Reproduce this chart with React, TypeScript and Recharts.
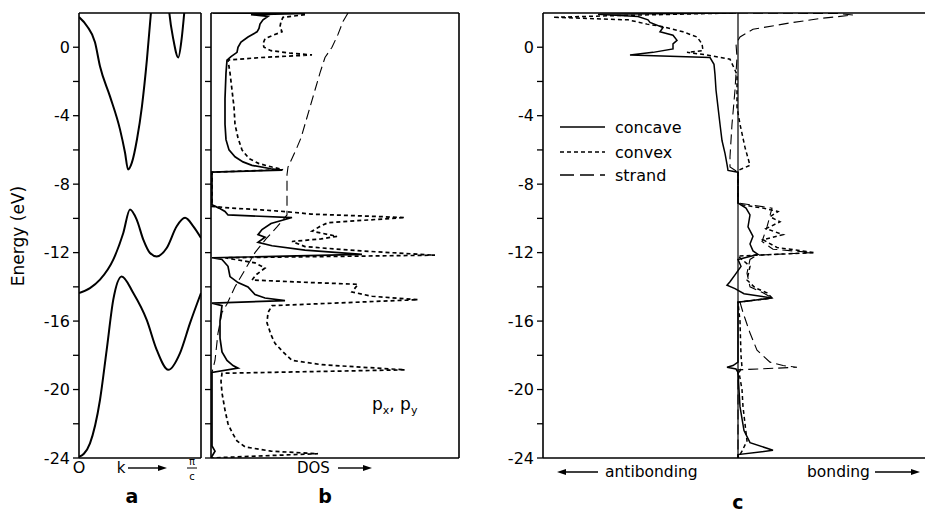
import React from "react";
import { ScatterChart, Scatter, XAxis, YAxis, ReferenceLine } from "recharts";

const FONT = "'DejaVu Sans', 'Liberation Sans', sans-serif";
const W = 925;
const H = 512;
const PLOT_TOP = 13;
const PLOT_BOTTOM = 458;

const energyDomain = [-24, 2];
const energyTicks = [-24, -22, -20, -18, -16, -14, -12, -10, -8, -6, -4, -2, 0];
const kDomain = [0, 1];
const dosDomain = [0, 248];
const coopDomain = [-195, 187];

// panel a: bands, k in units of pi/c
const band1 = [
  { k: 0, e: 1.76 }, { k: 0.066, e: 1.23 }, { k: 0.131, e: 0.29 }, { k: 0.172, e: -1.11 },
  { k: 0.254, e: -2.87 }, { k: 0.336, e: -4.8 }, { k: 0.377, e: -6.15 }, { k: 0.402, e: -7.14 },
  { k: 0.434, e: -6.73 }, { k: 0.475, e: -5.39 }, { k: 0.516, e: -3.45 }, { k: 0.557, e: -0.7 },
  { k: 0.59, e: 2.05 }, { k: 0.6, e: 2.8 },
];
const band2 = [
  { k: 0.73, e: 2.8 }, { k: 0.74, e: 2.03 }, { k: 0.773, e: 0.47 }, { k: 0.814, e: -0.6 },
  { k: 0.841, e: 0.47 }, { k: 0.863, e: 2.03 }, { k: 0.873, e: 2.8 },
];
const band3 = [
  { k: 0, e: -14.36 }, { k: 0.09, e: -14.07 }, { k: 0.172, e: -13.58 }, { k: 0.281, e: -12.41 },
  { k: 0.363, e: -10.85 }, { k: 0.418, e: -9.48 }, { k: 0.473, e: -10.07 }, { k: 0.527, e: -11.24 },
  { k: 0.582, e: -12.02 }, { k: 0.637, e: -12.22 }, { k: 0.719, e: -11.73 }, { k: 0.801, e: -10.46 },
  { k: 0.869, e: -9.97 }, { k: 0.937, e: -10.46 }, { k: 1, e: -11.14 },
];
const band4 = [
  { k: 0, e: -23.93 }, { k: 0.04, e: -23.75 }, { k: 0.09, e: -23.14 }, { k: 0.172, e: -20.61 },
  { k: 0.227, e: -17.68 }, { k: 0.281, e: -14.75 }, { k: 0.35, e: -13.39 }, { k: 0.445, e: -14.36 },
  { k: 0.555, e: -15.93 }, { k: 0.637, e: -17.68 }, { k: 0.732, e: -18.85 }, { k: 0.828, e: -17.87 },
  { k: 0.91, e: -16.12 }, { k: 1, e: -14.36 },
];

// panel b: px, py DOS projections
const dosConcave = [
  { e: 2.0, v: 2 }, { e: 1.97, v: 94 }, { e: 1.9, v: 40 }, { e: 1.8, v: 57 }, { e: 1.6, v: 52 },
  { e: 1.35, v: 49 }, { e: 1.1, v: 48 }, { e: 0.9, v: 46 }, { e: 0.6, v: 37 }, { e: 0.3, v: 30 },
  { e: 0, v: 27 }, { e: -0.3, v: 26 }, { e: -0.55, v: 20 }, { e: -0.75, v: 16 }, { e: -1.5, v: 15 },
  { e: -3, v: 14 }, { e: -4.5, v: 14 }, { e: -5.4, v: 15 }, { e: -6.0, v: 18 }, { e: -6.4, v: 24 },
  { e: -6.7, v: 32 }, { e: -6.9, v: 41 }, { e: -7.1, v: 60 }, { e: -7.18, v: 71 }, { e: -7.3, v: 1 },
  { e: -9.2, v: 1 }, { e: -9.4, v: 8 }, { e: -9.6, v: 14 }, { e: -9.8, v: 17 }, { e: -9.95, v: 81 },
  { e: -10.3, v: 60 }, { e: -10.65, v: 51 }, { e: -10.95, v: 47 }, { e: -11.1, v: 54 }, { e: -11.4, v: 47 },
  { e: -11.6, v: 61 }, { e: -11.85, v: 94 }, { e: -12.1, v: 151 }, { e: -12.3, v: 1 }, { e: -12.4, v: 11 },
  { e: -12.8, v: 17 }, { e: -13.4, v: 19 }, { e: -13.75, v: 27 }, { e: -14.0, v: 37 }, { e: -14.45, v: 44 },
  { e: -14.65, v: 54 }, { e: -14.8, v: 74 }, { e: -14.95, v: 1 }, { e: -15.1, v: 11 }, { e: -16, v: 9 },
  { e: -17, v: 9 }, { e: -17.8, v: 11 }, { e: -18.3, v: 16 }, { e: -18.6, v: 22 }, { e: -18.75, v: 27 },
  { e: -19.0, v: 1 }, { e: -23.3, v: 1 }, { e: -23.6, v: 4 }, { e: -23.9, v: 1 }, { e: -24, v: 0 },
];
const dosConvex = [
  { e: 1.9, v: 94 }, { e: 1.75, v: 72 }, { e: 1.5, v: 70 }, { e: 1.2, v: 69 }, { e: 0.9, v: 71 },
  { e: 0.7, v: 62 }, { e: 0.5, v: 54 }, { e: 0.2, v: 52 }, { e: 0, v: 53 }, { e: -0.2, v: 60 },
  { e: -0.35, v: 80 }, { e: -0.45, v: 101 }, { e: -0.6, v: 50 }, { e: -0.75, v: 17 }, { e: -1.5, v: 19 },
  { e: -2.5, v: 21 }, { e: -3.5, v: 23 }, { e: -4.5, v: 24 }, { e: -5.3, v: 27 }, { e: -6.0, v: 31 },
  { e: -6.5, v: 38 }, { e: -6.8, v: 48 }, { e: -7.0, v: 61 }, { e: -7.15, v: 72 }, { e: -7.3, v: 1 },
  { e: -9.3, v: 1 }, { e: -9.4, v: 21 }, { e: -9.5, v: 50 }, { e: -9.6, v: 74 }, { e: -9.75, v: 100 },
  { e: -9.95, v: 194 }, { e: -10.25, v: 117 }, { e: -10.5, v: 108 }, { e: -10.75, v: 101 }, { e: -11.05, v: 126 },
  { e: -11.2, v: 110 }, { e: -11.35, v: 81 }, { e: -11.65, v: 94 }, { e: -11.9, v: 150 }, { e: -12.15, v: 224 },
  { e: -12.3, v: 14 }, { e: -12.6, v: 44 }, { e: -12.9, v: 54 }, { e: -13.3, v: 45 }, { e: -13.6, v: 41 },
  { e: -13.75, v: 100 }, { e: -13.85, v: 147 }, { e: -14.3, v: 141 }, { e: -14.55, v: 161 }, { e: -14.75, v: 207 },
  { e: -15.1, v: 61 }, { e: -15.5, v: 57 }, { e: -16.1, v: 56 }, { e: -16.8, v: 60 }, { e: -17.3, v: 64 },
  { e: -17.8, v: 72 }, { e: -18.3, v: 81 }, { e: -18.55, v: 111 }, { e: -18.85, v: 194 }, { e: -19.05, v: 11 },
  { e: -19.5, v: 10 }, { e: -20.2, v: 11 }, { e: -21.2, v: 14 }, { e: -22.0, v: 17 }, { e: -22.5, v: 21 },
  { e: -23.0, v: 26 }, { e: -23.35, v: 34 }, { e: -23.6, v: 60 }, { e: -23.75, v: 107 }, { e: -23.9, v: 40 },
  { e: -24, v: 0 },
];
const dosStrand = [
  { e: 2.0, v: 137 }, { e: 1.5, v: 132 }, { e: 0.75, v: 127 }, { e: 0, v: 121 }, { e: -0.6, v: 114 },
  { e: -1.5, v: 109 }, { e: -2.5, v: 104 }, { e: -3.5, v: 99 }, { e: -4.5, v: 94 }, { e: -5.3, v: 90 },
  { e: -5.85, v: 86 }, { e: -6.5, v: 81 }, { e: -7.0, v: 77 }, { e: -7.45, v: 76 }, { e: -8.5, v: 76 },
  { e: -9.8, v: 76 }, { e: -10.5, v: 66 }, { e: -11.2, v: 55 }, { e: -12.0, v: 44 }, { e: -13.0, v: 34 },
  { e: -14.0, v: 24 }, { e: -15.0, v: 16 }, { e: -15.5, v: 11 }, { e: -16.7, v: 7 }, { e: -18.3, v: 4 },
  { e: -19.0, v: 1 }, { e: -19.1, v: 0 },
];

// panel c: COOP, negative = antibonding, positive = bonding
const coopConcave = [
  { e: 2.0, v: -2 }, { e: 1.92, v: -140 }, { e: 1.8, v: -100 }, { e: 1.6, v: -90 }, { e: 1.45, v: -88 },
  { e: 1.15, v: -75 }, { e: 0.9, v: -78 }, { e: 0.7, v: -65 }, { e: 0.4, v: -61 }, { e: 0.2, v: -65 },
  { e: -0.1, v: -65 }, { e: -0.3, v: -85 }, { e: -0.45, v: -108 }, { e: -0.6, v: -28 }, { e: -1.0, v: -24 },
  { e: -1.6, v: -23 }, { e: -2.5, v: -22 }, { e: -3.5, v: -20 }, { e: -4.5, v: -18 }, { e: -5.45, v: -16 },
  { e: -6.2, v: -13 }, { e: -6.85, v: -11 }, { e: -7.2, v: -10 }, { e: -7.3, v: 0 }, { e: -9.1, v: 0 },
  { e: -9.4, v: 8 }, { e: -9.8, v: 12 }, { e: -10.5, v: 10 }, { e: -11.05, v: 15 }, { e: -11.5, v: 12 },
  { e: -11.9, v: 15 }, { e: -12.1, v: 20 }, { e: -12.4, v: 0 }, { e: -12.8, v: 3 }, { e: -13.3, v: -3 },
  { e: -13.7, v: -8 }, { e: -13.9, v: -11 }, { e: -14.1, v: -3 }, { e: -14.4, v: 6 }, { e: -14.65, v: 34 },
  { e: -14.9, v: 0 }, { e: -18.4, v: 0 }, { e: -18.6, v: -5 }, { e: -18.7, v: -11 }, { e: -18.8, v: -2 },
  { e: -19, v: 0 }, { e: -21, v: 2 }, { e: -22.4, v: 6 }, { e: -23.1, v: 12 }, { e: -23.55, v: 35 },
  { e: -23.8, v: 0 }, { e: -24, v: 0 },
];
const coopConvex = [
  { e: 2.0, v: -5 }, { e: 1.85, v: -120 }, { e: 1.75, v: -185 }, { e: 1.6, v: -110 }, { e: 1.35, v: -91 },
  { e: 1.2, v: -75 }, { e: 0.9, v: -55 }, { e: 0.6, v: -41 }, { e: 0.2, v: -36 }, { e: -0.2, v: -35 },
  { e: -0.3, v: -51 }, { e: -0.45, v: -31 }, { e: -0.7, v: -8 }, { e: -1.6, v: -1 }, { e: -3.5, v: -1 },
  { e: -4.5, v: 2 }, { e: -5.85, v: 7 }, { e: -6.9, v: 12 }, { e: -7.2, v: 0 }, { e: -9.1, v: 0 },
  { e: -9.2, v: 3 }, { e: -9.4, v: 25 }, { e: -9.6, v: 40 }, { e: -9.9, v: 32 }, { e: -10.2, v: 42 },
  { e: -10.6, v: 28 }, { e: -10.95, v: 45 }, { e: -11.25, v: 25 }, { e: -11.7, v: 39 }, { e: -12.0, v: 77 },
  { e: -12.2, v: 0 }, { e: -12.8, v: 12 }, { e: -13.6, v: 9 }, { e: -14.05, v: 17 }, { e: -14.35, v: 29 },
  { e: -14.65, v: 34 }, { e: -14.9, v: 0 }, { e: -16, v: 2 }, { e: -18, v: 3 }, { e: -18.7, v: 4 },
  { e: -19, v: 1 }, { e: -20, v: 4 }, { e: -21, v: 5 }, { e: -22, v: 7 }, { e: -23, v: 9 },
  { e: -23.6, v: 4 }, { e: -24, v: 0 },
];
const coopStrand = [
  { e: 2.0, v: 0 }, { e: 1.97, v: 100 }, { e: 1.88, v: 115 }, { e: 1.7, v: 85 }, { e: 1.45, v: 55 },
  { e: 1.05, v: 15 }, { e: 0.6, v: 2 }, { e: 0.2, v: -2 }, { e: -0.6, v: -1 }, { e: -2.5, v: -3 },
  { e: -4.5, v: -6 }, { e: -6.4, v: -8 }, { e: -7.0, v: -8 }, { e: -7.3, v: 0 }, { e: -9.1, v: 0 },
  { e: -9.4, v: 34 }, { e: -10.5, v: 29 }, { e: -11.35, v: 24 }, { e: -11.8, v: 35 }, { e: -12.0, v: 75 },
  { e: -12.15, v: 19 }, { e: -12.4, v: 12 }, { e: -13.2, v: 9 }, { e: -14.0, v: 12 }, { e: -14.35, v: 25 },
  { e: -14.65, v: 34 }, { e: -14.9, v: 2 }, { e: -15.5, v: 5 }, { e: -16.7, v: 12 }, { e: -17.7, v: 19 },
  { e: -18.4, v: 32 }, { e: -18.6, v: 45 }, { e: -18.7, v: 59 }, { e: -18.85, v: 0 }, { e: -24, v: 0 },
];

const SOLID = undefined;
const SHORT = "4 3";
const LONG = "10 5";

const NoDot = () => <g />;

const EnergyTick = ({ x, y, payload }: any) =>
  payload.value % 4 === 0 ? (
    <text x={x} y={y} dy="0.36em" textAnchor="end" fontSize={16} fontFamily={FONT} fill="#000">
      {payload.value}
    </text>
  ) : (
    <g />
  );

const BlankTick = () => <g />;

const curve = (key: string, data: any[], dash: string | undefined, width: number, joint = "linear") => (
  <Scatter
    key={key}
    data={data}
    fill="#000"
    shape={NoDot}
    line={{ stroke: "#000", strokeWidth: width, strokeDasharray: dash, fill: "none" }}
    lineType="joint"
    lineJointType={joint as any}
    legendType="none"
    isAnimationActive={false}
  />
);

const frame = { stroke: "#000", strokeWidth: 1.6 };

const yAxisProps = {
  type: "number" as const,
  dataKey: "e",
  domain: energyDomain,
  ticks: energyTicks,
  allowDataOverflow: true,
  interval: 0 as const,
  tickSize: 6,
  tickMargin: 3,
  axisLine: frame,
  tickLine: { stroke: "#000", strokeWidth: 1.3 },
};

const Arrow = ({ x1, x2, y }: { x1: number; x2: number; y: number }) => {
  const dir = x2 > x1 ? 1 : -1;
  return (
    <g>
      <line x1={x1} y1={y} x2={x2 - dir * 8} y2={y} stroke="#000" strokeWidth={1.4} />
      <polygon points={`${x2},${y} ${x2 - dir * 9},${y - 3} ${x2 - dir * 9},${y + 3}`} fill="#000" />
    </g>
  );
};

const Overlay = () => (
  <svg width={W} height={H} style={{ position: "absolute", left: 0, top: 0, pointerEvents: "none" }}>
    <g fontFamily={FONT} fill="#000">
      <text x={18} y={236} fontSize={17} textAnchor="middle" dominantBaseline="central" transform="rotate(-90 18 236)">
        Energy (eV)
      </text>
      {/* panel a */}
      <text x={79} y={473} fontSize={16} textAnchor="middle">O</text>
      <text x={121} y={473} fontSize={15} textAnchor="middle">k</text>
      <Arrow x1={128} x2={167} y={468} />
      <text x={192} y={465} fontSize={10} textAnchor="middle">π</text>
      <line x1={187} y1={468} x2={197} y2={468} stroke="#000" strokeWidth={1} />
      <text x={192} y={480} fontSize={10} textAnchor="middle">c</text>
      <text x={132} y={503} fontSize={19} fontWeight="bold" textAnchor="middle">a</text>
      {/* panel b */}
      <text x={297} y={473} fontSize={15}>DOS</text>
      <Arrow x1={338} x2={372} y={468} />
      <text x={325} y={503} fontSize={19} fontWeight="bold" textAnchor="middle">b</text>
      <text x={372} y={410} fontSize={17}>
        p<tspan fontSize={11} dy={4}>x</tspan>
        <tspan dy={-4}>, p</tspan>
        <tspan fontSize={11} dy={4}>y</tspan>
      </text>
      {/* panel c */}
      <Arrow x1={598} x2={557} y={472} />
      <text x={605} y={477} fontSize={15.5}>antibonding</text>
      <text x={807} y={477} fontSize={15.5}>bonding</text>
      <Arrow x1={875} x2={920} y={472} />
      <text x={738} y={509} fontSize={19} fontWeight="bold" textAnchor="middle">c</text>
      {/* legend */}
      <line x1={560} y1={127} x2={605} y2={127} stroke="#000" strokeWidth={1.6} />
      <text x={615} y={127} fontSize={16} dominantBaseline="central">concave</text>
      <line x1={560} y1={152} x2={605} y2={152} stroke="#000" strokeWidth={1.6} strokeDasharray={SHORT} />
      <text x={615} y={152} fontSize={16} dominantBaseline="central">convex</text>
      <line x1={560} y1={175} x2={605} y2={175} stroke="#000" strokeWidth={1.3} strokeDasharray="14 6" />
      <text x={615} y={175} fontSize={16} dominantBaseline="central">strand</text>
    </g>
  </svg>
);

const layer: React.CSSProperties = { position: "absolute", left: 0, top: 0 };

export default function App() {
  return (
    <div style={{ position: "absolute", left: 0, top: 0, width: W, height: H, background: "#fff", overflow: "hidden" }}>
      {/* a: band structure */}
      <div style={layer}>
        <ScatterChart width={W} height={H} margin={{ top: PLOT_TOP, right: W - 201, bottom: H - PLOT_BOTTOM, left: 29 }}>
          <XAxis type="number" dataKey="k" domain={kDomain} hide allowDataOverflow />
          <YAxis {...yAxisProps} width={50} tick={<EnergyTick />} />
          <ReferenceLine y={2} {...frame} />
          <ReferenceLine y={-24} {...frame} />
          <ReferenceLine x={1} {...frame} />
          {curve("b1", band1, SOLID, 2, "monotoneX")}
          {curve("b2", band2, SOLID, 2, "monotoneX")}
          {curve("b3", band3, SOLID, 2, "monotoneX")}
          {curve("b4", band4, SOLID, 2, "monotoneX")}
        </ScatterChart>
      </div>
      {/* b: DOS */}
      <div style={layer}>
        <ScatterChart width={W} height={H} margin={{ top: PLOT_TOP, right: W - 459, bottom: H - PLOT_BOTTOM, left: 201 }}>
          <XAxis type="number" dataKey="v" domain={dosDomain} hide allowDataOverflow />
          <YAxis {...yAxisProps} width={10} tick={<BlankTick />} />
          <ReferenceLine y={2} {...frame} />
          <ReferenceLine y={-24} {...frame} />
          <ReferenceLine x={248} {...frame} />
          {curve("dS", dosStrand, LONG, 1.1)}
          {curve("dV", dosConvex, SHORT, 1.7)}
          {curve("dC", dosConcave, SOLID, 1.7)}
        </ScatterChart>
      </div>
      {/* c: COOP */}
      <div style={layer}>
        <ScatterChart width={W} height={H} margin={{ top: PLOT_TOP, right: 0, bottom: H - PLOT_BOTTOM, left: 493 }}>
          <XAxis type="number" dataKey="v" domain={coopDomain} hide allowDataOverflow />
          <YAxis {...yAxisProps} width={50} tick={<EnergyTick />} />
          <ReferenceLine y={2} {...frame} />
          <ReferenceLine y={-24} {...frame} />
          <ReferenceLine x={0} stroke="#000" strokeWidth={1.2} />
          {curve("cS", coopStrand, LONG, 1.1)}
          {curve("cV", coopConvex, SHORT, 1.5)}
          {curve("cC", coopConcave, SOLID, 1.5)}
        </ScatterChart>
      </div>
      <Overlay />
    </div>
  );
}
